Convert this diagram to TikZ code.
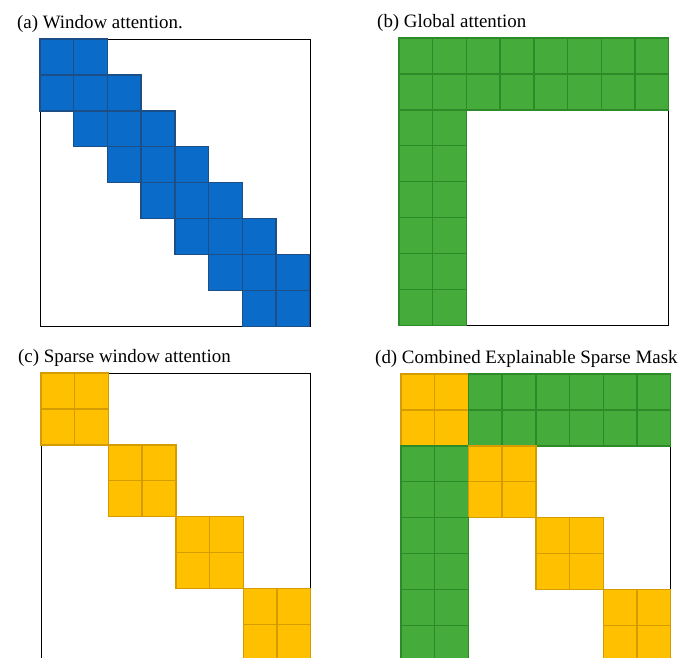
\documentclass[tikz,border=0pt]{standalone}
\usepackage{fontspec}
\setmainfont{Liberation Serif}
\definecolor{bfill}{HTML}{0A6CC8}
\definecolor{bline}{HTML}{1C4F88}
\definecolor{gfill}{HTML}{45AC3B}
\definecolor{gline}{HTML}{2C8A28}
\definecolor{yfill}{HTML}{FFC000}
\definecolor{yline}{HTML}{D49C00}
\tikzset{
  frame/.style={draw=black,line width=1pt},
  bcell/.style={fill=bfill,draw=bline,line width=1.4pt},
  gcell/.style={fill=gfill,draw=gline,line width=1.4pt},
  ycell/.style={fill=yfill,draw=yline,line width=1.4pt},
  lab/.style={anchor=base west,inner sep=0pt,font=\fontsize{18.9}{22}\selectfont}
}
\newcommand\mcell[5]{% style, x0, y0, col, row
  \path[#1] ({#2+#4*33.7},{#3+#5*35.9}) rectangle ++(33.7,35.9);}
\begin{document}
\begin{tikzpicture}[x=1pt,y=-1pt]
\useasboundingbox (0,0) rectangle (679,657);
\clip (0,0) rectangle (679,657);
\fill[white] (0,0) rectangle (679,657);
% labels
\node[lab] (la) at (17,28) {(a) Window attention.};
\node[lab] (lb) at (377,27) {(b) Global attention};
\node[lab] (lc) at (18,362) {(c) Sparse window attention};
\node[lab] (ld) at (375,363) {(d) Combined Explainable Sparse Mask};
% frames
\draw[frame] (40,39) rectangle (310,326);
\draw[frame] (399,38) rectangle (668,325);
\draw[frame] (41,373) rectangle (310,661);
\draw[frame] (401,374) rectangle (670,662);
% (a) window attention
\foreach \r in {0,...,7}{
  \foreach \c in {0,...,7}{
    \pgfmathtruncatemacro\d{abs(\c-\r)}
    \ifnum\d<2 \mcell{bcell}{40}{39}{\c}{\r}\fi
  }
}
% (b) global attention
\foreach \r in {0,...,7}{
  \foreach \c in {0,...,7}{
    \pgfmathtruncatemacro\g{(\r<2)||(\c<2)}
    \ifnum\g=1 \mcell{gcell}{399}{38}{\c}{\r}\fi
  }
}
% (c) sparse window attention
\foreach \r in {0,...,7}{
  \foreach \c in {0,...,7}{
    \pgfmathtruncatemacro\s{floor(\c/2)==floor(\r/2)}
    \ifnum\s=1 \mcell{ycell}{41}{373}{\c}{\r}\fi
  }
}
% (d) combined
\foreach \r in {0,...,7}{
  \foreach \c in {0,...,7}{
    \pgfmathtruncatemacro\s{floor(\c/2)==floor(\r/2)}
    \pgfmathtruncatemacro\g{(\r<2)||(\c<2)}
    \ifnum\s=1 \mcell{ycell}{401}{374}{\c}{\r}\else
      \ifnum\g=1 \mcell{gcell}{401}{374}{\c}{\r}\fi
    \fi
  }
}
\end{tikzpicture}
\end{document}
